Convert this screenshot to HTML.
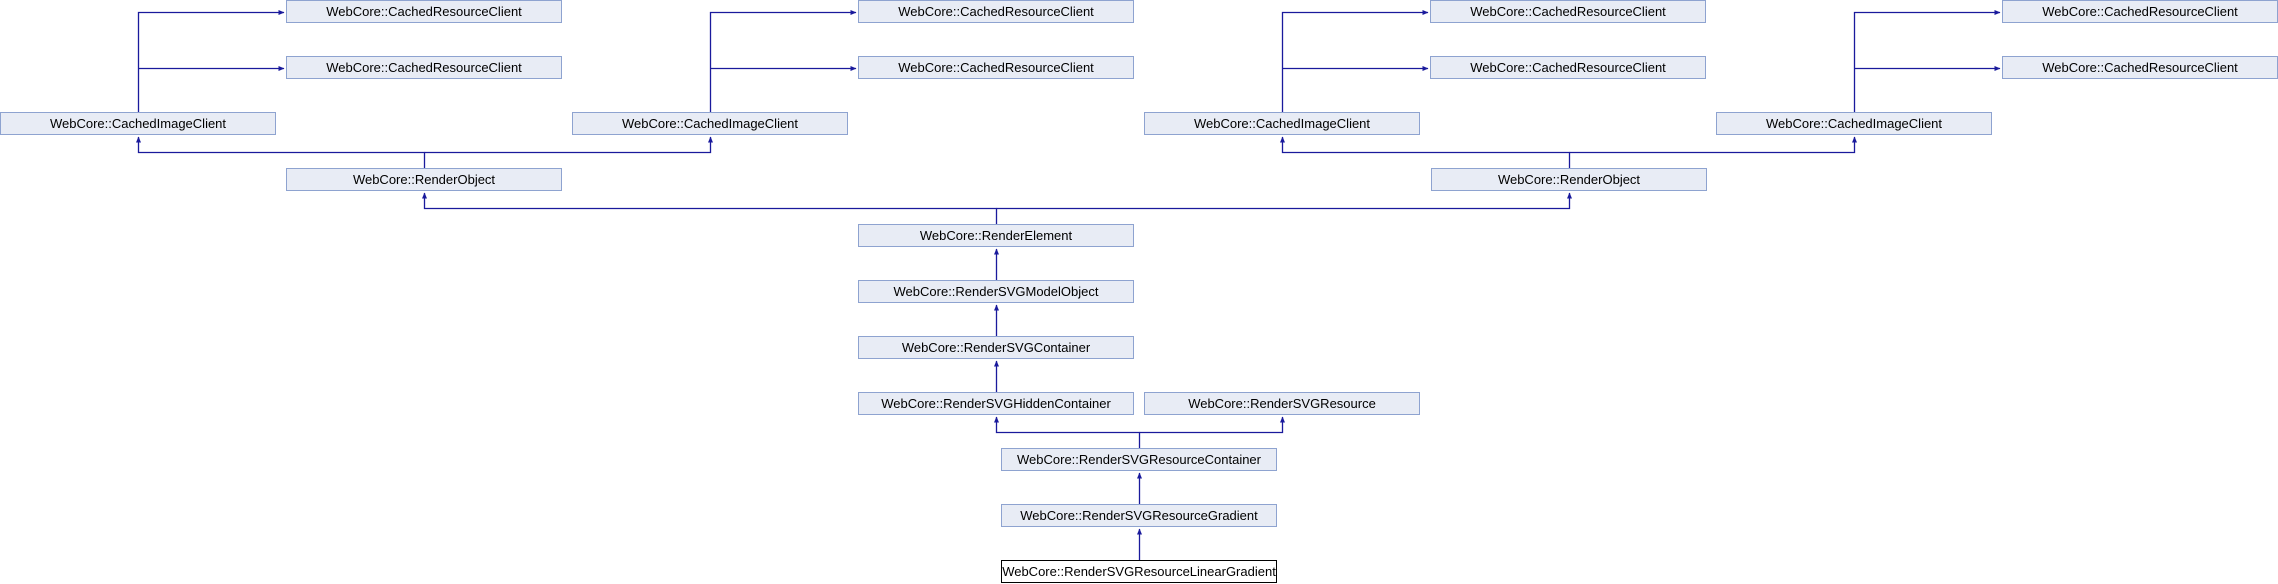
<!DOCTYPE html>
<html><head><meta charset="utf-8"><style>
html,body{margin:0;padding:0;background:#fff;}
svg{display:block;}
text{font-family:"Liberation Sans",sans-serif;font-size:13px;fill:#000;}
</style></head><body>
<svg width="2278" height="584" viewBox="0 0 2278 584" xmlns="http://www.w3.org/2000/svg">
<defs>
<marker id="a" markerWidth="6" markerHeight="6" refX="5.5" refY="3" orient="auto" markerUnits="userSpaceOnUse">
<path d="M0,0.5 L6,3 L0,5.5 z" fill="#1a1a9c"/>
</marker>
</defs>
<g fill="none" stroke="#1a1a9c" stroke-width="1.3">
<!-- groups -->
<path d="M138.5 112 V12.5 H284" marker-end="url(#a)"/>
<path d="M138.5 68.5 H284" marker-end="url(#a)"/>
<path d="M710.5 112 V12.5 H856" marker-end="url(#a)"/>
<path d="M710.5 68.5 H856" marker-end="url(#a)"/>
<path d="M1282.5 112 V12.5 H1428" marker-end="url(#a)"/>
<path d="M1282.5 68.5 H1428" marker-end="url(#a)"/>
<path d="M1854.5 112 V12.5 H2000" marker-end="url(#a)"/>
<path d="M1854.5 68.5 H2000" marker-end="url(#a)"/>
<!-- RenderObject left -->
<path d="M424.5 168 V152.5 H138.5 V137" marker-end="url(#a)"/>
<path d="M424.5 152.5 H710.5 V137" marker-end="url(#a)"/>
<path d="M1569.5 168 V152.5 H1282.5 V137" marker-end="url(#a)"/>
<path d="M1569.5 152.5 H1854.5 V137" marker-end="url(#a)"/>
<!-- RenderElement -->
<path d="M996.5 224 V208.5 H424.5 V193" marker-end="url(#a)"/>
<path d="M996.5 208.5 H1569.5 V193" marker-end="url(#a)"/>
<path d="M996.5 280 V249" marker-end="url(#a)"/>
<path d="M996.5 336 V305" marker-end="url(#a)"/>
<path d="M996.5 392 V361" marker-end="url(#a)"/>
<path d="M1139.5 448 V432.5 H996.5 V417" marker-end="url(#a)"/>
<path d="M1139.5 432.5 H1282.5 V417" marker-end="url(#a)"/>
<path d="M1139.5 504 V473" marker-end="url(#a)"/>
<path d="M1139.5 560 V529" marker-end="url(#a)"/>
</g>
<g fill="#e8ecf5" stroke="#8ea3d0" stroke-width="1">
<rect x="286.5" y="0.5" width="275" height="22"/>
<rect x="286.5" y="56.5" width="275" height="22"/>
<rect x="858.5" y="0.5" width="275" height="22"/>
<rect x="858.5" y="56.5" width="275" height="22"/>
<rect x="1430.5" y="0.5" width="275" height="22"/>
<rect x="1430.5" y="56.5" width="275" height="22"/>
<rect x="2002.5" y="0.5" width="275" height="22"/>
<rect x="2002.5" y="56.5" width="275" height="22"/>
<rect x="0.5" y="112.5" width="275" height="22"/>
<rect x="572.5" y="112.5" width="275" height="22"/>
<rect x="1144.5" y="112.5" width="275" height="22"/>
<rect x="1716.5" y="112.5" width="275" height="22"/>
<rect x="286.5" y="168.5" width="275" height="22"/>
<rect x="1431.5" y="168.5" width="275" height="22"/>
<rect x="858.5" y="224.5" width="275" height="22"/>
<rect x="858.5" y="280.5" width="275" height="22"/>
<rect x="858.5" y="336.5" width="275" height="22"/>
<rect x="858.5" y="392.5" width="275" height="22"/>
<rect x="1144.5" y="392.5" width="275" height="22"/>
<rect x="1001.5" y="448.5" width="275" height="22"/>
<rect x="1001.5" y="504.5" width="275" height="22"/>
</g>
<rect x="1001.5" y="560.5" width="275" height="22" fill="#fff" stroke="#000" stroke-width="1"/>
<g text-anchor="middle">
<text x="424" y="16">WebCore::CachedResourceClient</text>
<text x="424" y="72">WebCore::CachedResourceClient</text>
<text x="996" y="16">WebCore::CachedResourceClient</text>
<text x="996" y="72">WebCore::CachedResourceClient</text>
<text x="1568" y="16">WebCore::CachedResourceClient</text>
<text x="1568" y="72">WebCore::CachedResourceClient</text>
<text x="2140" y="16">WebCore::CachedResourceClient</text>
<text x="2140" y="72">WebCore::CachedResourceClient</text>
<text x="138" y="128">WebCore::CachedImageClient</text>
<text x="710" y="128">WebCore::CachedImageClient</text>
<text x="1282" y="128">WebCore::CachedImageClient</text>
<text x="1854" y="128">WebCore::CachedImageClient</text>
<text x="424" y="184">WebCore::RenderObject</text>
<text x="1569" y="184">WebCore::RenderObject</text>
<text x="996" y="240">WebCore::RenderElement</text>
<text x="996" y="296">WebCore::RenderSVGModelObject</text>
<text x="996" y="352">WebCore::RenderSVGContainer</text>
<text x="996" y="408">WebCore::RenderSVGHiddenContainer</text>
<text x="1282" y="408">WebCore::RenderSVGResource</text>
<text x="1139" y="464">WebCore::RenderSVGResourceContainer</text>
<text x="1139" y="520">WebCore::RenderSVGResourceGradient</text>
<text x="1139" y="576">WebCore::RenderSVGResourceLinearGradient</text>
</g>
</svg>
</body></html>
